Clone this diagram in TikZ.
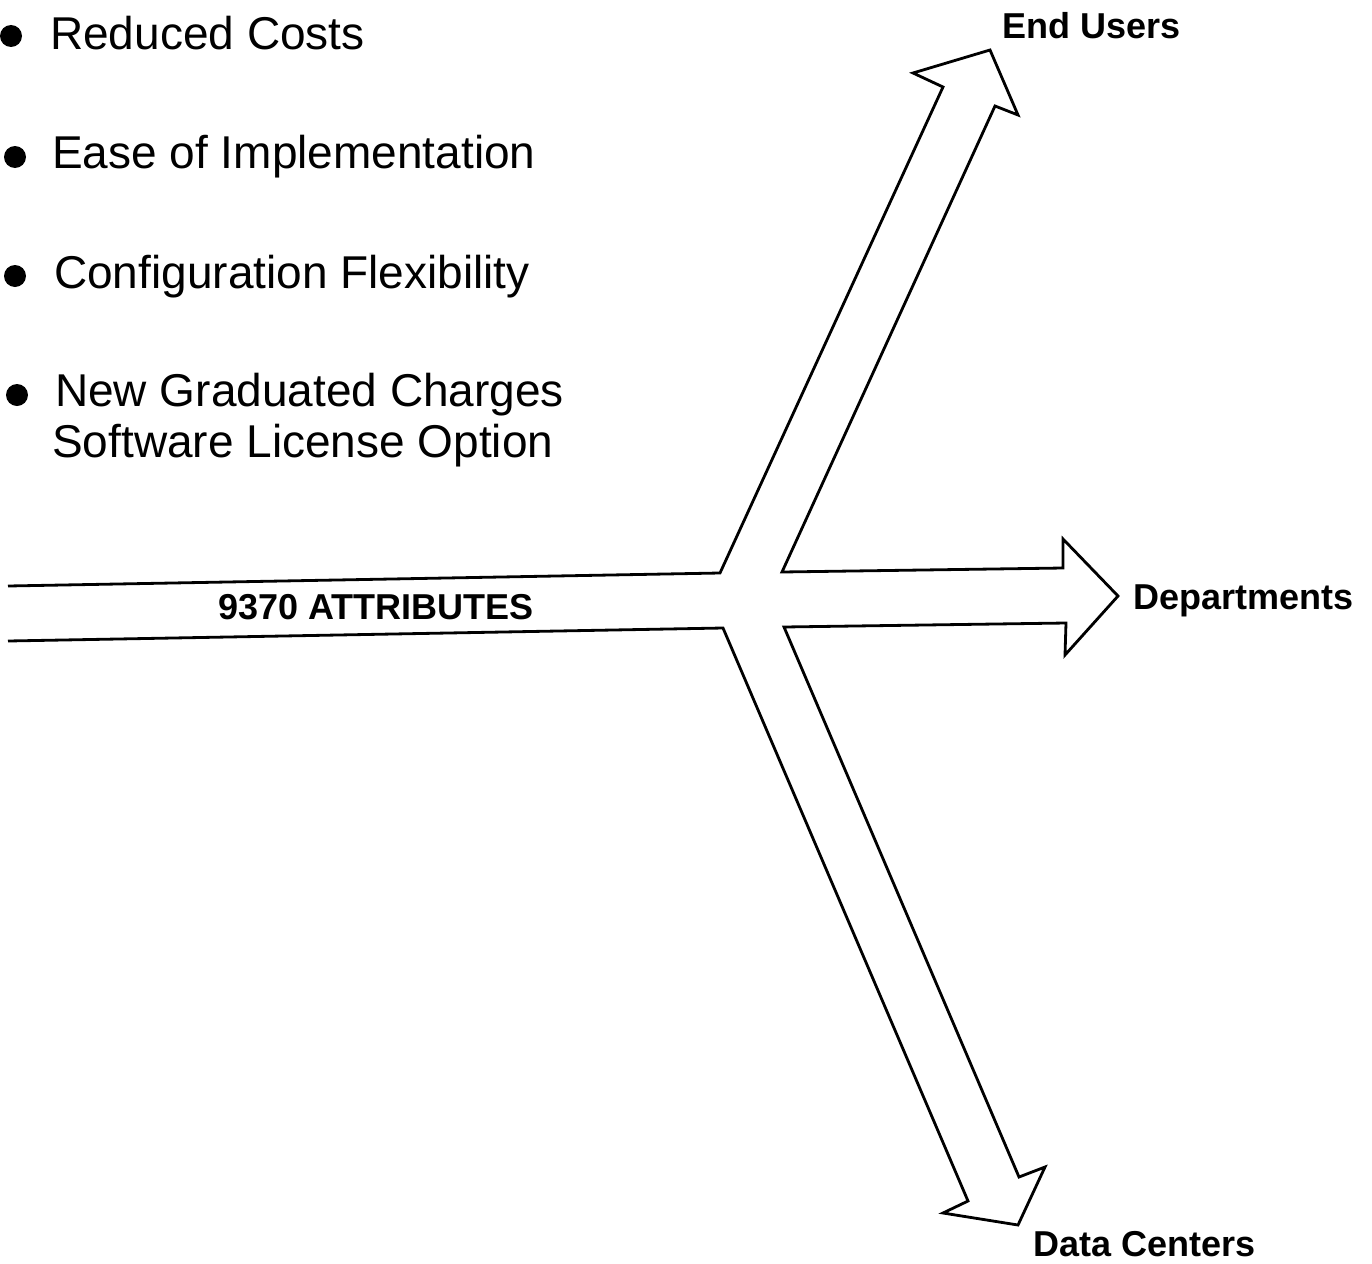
\documentclass[tikz,border=0pt]{standalone}
\usepackage{fontspec}
\setmainfont{Liberation Sans}

\begin{document}
\begin{tikzpicture}[x=1pt, y=-1pt,
    outline/.style={line width=2.8pt, line join=miter},
    item/.style={anchor=base west, inner sep=0pt, font=\fontsize{46}{52}\selectfont},
    target/.style={anchor=base west, inner sep=0pt, font=\fontsize{36}{40}\selectfont\bfseries}]

    % Fix the page to the size of the reference
    \useasboundingbox (0,0) rectangle (1372,1263);

    % Corners of the incoming shaft and the junction
    \coordinate (inTop) at (8,586);
    \coordinate (inBot) at (8,641);
    \coordinate (jTL) at (720,573);
    \coordinate (jBL) at (723,628);
    \coordinate (jTR) at (782,572);
    \coordinate (jBR) at (784,627);

    % Corners of the head pointing up
    \coordinate (upL) at (943,87);
    \coordinate (upLB) at (913,73);
    \coordinate (upTip) at (990,50);
    \coordinate (upRB) at (1018,115);
    \coordinate (upR) at (995,106);

    % Corners of the head pointing right
    \coordinate (rtT) at (1063,568);
    \coordinate (rtTB) at (1063,539);
    \coordinate (rtTip) at (1118,596);
    \coordinate (rtBB) at (1065,655);
    \coordinate (rtB) at (1066,623);

    % Corners of the head pointing down
    \coordinate (dnR) at (1019,1177);
    \coordinate (dnRB) at (1045,1167);
    \coordinate (dnTip) at (1018,1225);
    \coordinate (dnLB) at (943,1213);
    \coordinate (dnL) at (968,1201);

    % Draw the whole branching arrow in one stroke
    \draw[outline] (inTop) -- (jTL) -- (upL) -- (upLB) -- (upTip) -- (upRB) -- (upR)
        -- (jTR) -- (rtT) -- (rtTB) -- (rtTip) -- (rtBB) -- (rtB)
        -- (jBR) -- (dnR) -- (dnRB) -- (dnTip) -- (dnLB) -- (dnL)
        -- (jBL) -- (inBot);

    % Labels at the ends of the arrow
    \node[target] (attributes) at (218,619) {9370 ATTRIBUTES};
    \node[target] (endusers) at (1002,38) {End Users};
    \node[target] (depts) at (1133,609) {Departments};
    \node[target] (datacenters) at (1033,1256) {Data Centers};

    % Bullet list on the left
    \node[item] (reduced) at (50,50) {Reduced Costs};
    \node[item] (ease) at (52,168) {Ease of Implementation};
    \node[item] (config) at (54,288) {Configuration Flexibility};
    \node[item] (graduated) at (55,406) {New Graduated Charges};
    \node[item] (license) at (52,457) {Software License Option};
    \foreach \x/\y in {11/36, 15/157, 15/276, 17/395} {
        \fill (\x,\y) circle[radius=11pt];
    }

\end{tikzpicture}
\end{document}
